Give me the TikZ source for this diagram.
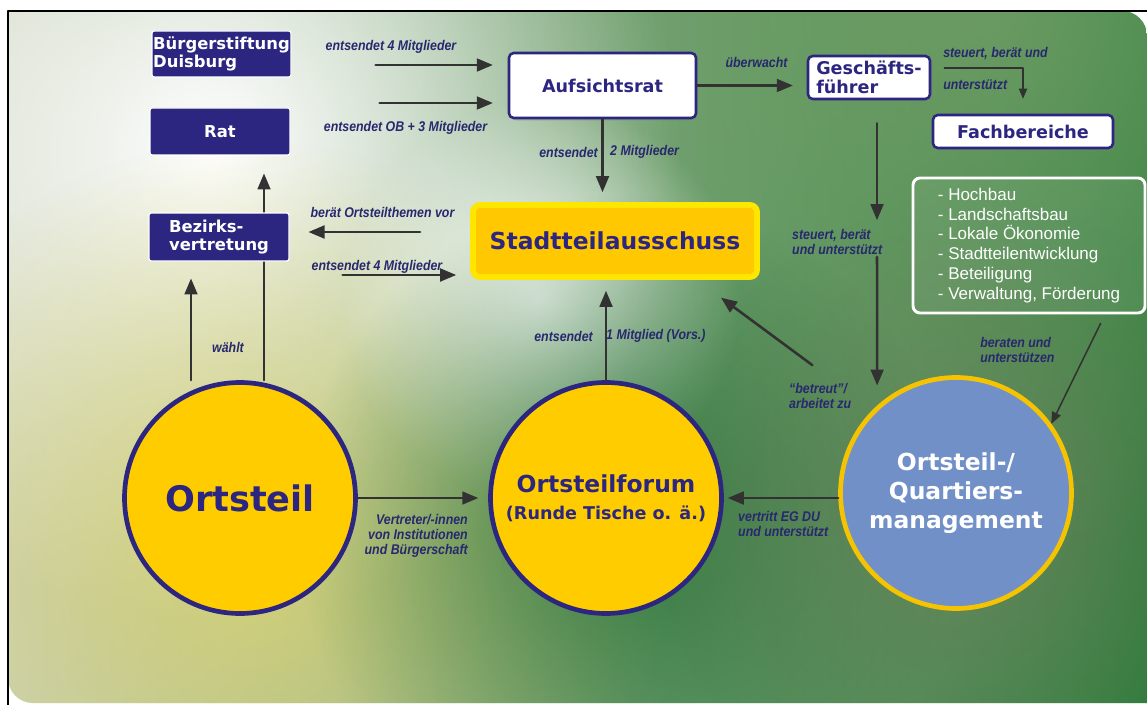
\documentclass[tikz,border=0pt]{standalone}
\usepackage{fontspec}
\newfontfamily\boxfont{DejaVu Sans}
\newfontfamily\labelfont[FakeStretch=0.88]{Liberation Sans}
\newfontfamily\listfont{Liberation Sans}
\usetikzlibrary{arrows,fadings,shadows}
\tikzfading[name=glow out,inner color=transparent!0,outer color=transparent!100]
\definecolor{navy}{RGB}{44,38,128}
\definecolor{labelnavy}{RGB}{40,40,110}
\definecolor{sunyellow}{RGB}{255,204,0}
\definecolor{staborder}{RGB}{255,230,0}
\definecolor{stafill}{RGB}{255,200,0}
\definecolor{qmblue}{RGB}{114,144,200}
\definecolor{qmring}{RGB}{245,195,0}
\definecolor{arrowgray}{RGB}{50,50,50}
\definecolor{bgleft}{RGB}{200,208,185}
\definecolor{bgmid}{RGB}{125,162,105}
\definecolor{bggreen}{RGB}{42,124,58}
\definecolor{bgtop}{RGB}{118,160,104}
\definecolor{glowyellow}{RGB}{222,212,110}
\definecolor{darkgreen}{RGB}{30,105,45}
\definecolor{haze}{RGB}{125,130,100}

\begin{document}
\begin{tikzpicture}[line cap=round,line join=round,>=triangle 45,x=0.3mm,y=-0.3mm,
    darkbox/.style={draw=white,line width=1pt,fill=navy,rounded corners=2pt,text=white,
      font=\boxfont\bfseries\fontsize{14}{15.5}\selectfont,align=left,inner sep=0pt},
    whitebox/.style={draw=navy,line width=2.2pt,fill=white,rounded corners=4pt,text=navy,
      font=\boxfont\bfseries\fontsize{15}{16}\selectfont,align=left,inner sep=0pt,
      drop shadow={opacity=0.25}},
    bigcircle/.style={circle,draw=navy,line width=4pt,fill=sunyellow,text=navy,
      minimum size=69.3mm,inner sep=0pt,align=center},
    flow/.style={->,draw=arrowgray,line width=2.2pt},
    thinflow/.style={->,draw=arrowgray,line width=1pt},
    lab/.style={text=labelnavy,font=\labelfont\bfseries\itshape\fontsize{12}{12.8}\selectfont,
      inner sep=0pt,align=left}]
    \useasboundingbox (0,0) rectangle (1147,705);
    \begin{scope}
    \clip (8,11) -- (1122,11) arc(-90:0:25) -- (1147,703) -- (33,703) arc(90:180:25) -- cycle;
    \shade[left color=bgleft,middle color=bgmid,right color=bggreen] (8,11) rectangle (1147,705);
    \fill[bgtop,path fading=glow out,opacity=.8] (980,0) circle (560);
    \fill[white,path fading=glow out] (210,150) circle (470);
    \fill[glowyellow,path fading=glow out,opacity=.8] (250,560) circle (420);
    \fill[white,path fading=glow out,opacity=.9] (540,300) circle (200);
    \fill[darkgreen,path fading=glow out,opacity=.7] (625,525) circle (330);
    \fill[haze,path fading=glow out,opacity=.6] (975,520) circle (320);
    \end{scope}
    \draw[black,line width=1pt] (8,705) -- (8,11) -- (1147,11);

    \node[darkbox,minimum width=41.7mm,minimum height=13.8mm] (buerger) at (221.5,54) {Bürgerstiftung\\Duisburg};
    \node[darkbox,align=center,minimum width=42mm,minimum height=14.1mm] (rat) at (220,131.5) {Rat};
    \node[bigcircle,font=\boxfont\bfseries\fontsize{30}{34}\selectfont] (ortsteil) at (240,498) {Ortsteil};
    \draw[flow,shorten >=5.4mm] (ortsteil.north -| 264,0) -- (rat.south -| 264,0);
    \node[darkbox,minimum width=42mm,minimum height=14.4mm] (bezirk) at (219,237) {Bezirks-\\vertretung};

    \node[whitebox,align=center,minimum width=56.1mm,minimum height=19.5mm] (aufsicht) at (602.5,85.5) {Aufsichtsrat};
    \node[whitebox,minimum width=36.6mm,minimum height=12.9mm] (gf) at (869,77.5) {Geschäfts-\\führer};
    \node[whitebox,align=center,minimum width=54mm,minimum height=9.9mm] (fach) at (1023,131.5) {Fachbereiche};
    \node[draw=white,line width=2.5pt,rounded corners=6pt,fill=white,fill opacity=.06,text opacity=1,
      text=white,font=\listfont\fontsize{14.5}{17}\selectfont,align=left,inner sep=0pt,
      minimum width=69.6mm,minimum height=40.5mm] (list) at (1029,245.5)
      {- Hochbau\\- Landschaftsbau\\- Lokale Ökonomie\\- Stadtteilentwicklung\\- Beteiligung\\- Verwaltung, Förderung};
    \node[draw=staborder,line width=5pt,fill=stafill,rounded corners=6pt,text=navy,
      font=\boxfont\bfseries\fontsize{20}{24}\selectfont,minimum width=85.2mm,minimum height=21.6mm,
      drop shadow={opacity=0.3}] (sta) at (615,241) {Stadtteilausschuss};
    \node[bigcircle,font=\boxfont\bfseries\fontsize{20}{21}\selectfont] (forum) at (606,498)
      {Ortsteilforum\\[2pt]{\fontsize{15}{18}\selectfont (Runde Tische o. ä.)}};
    \node[bigcircle,draw=qmring,fill=qmblue,text=white,font=\boxfont\bfseries\fontsize{20}{25}\selectfont] (qm) at (956,493)
      {Ortsteil-/\\Quartiers-\\management};

    \draw[flow,shorten <=25.2mm,shorten >=4.5mm] (buerger.east |- 0,65) -- (aufsicht.west |- 0,65);
    \draw[flow,shorten <=26.7mm,shorten >=4.5mm] (rat.east |- 0,103) -- (aufsicht.west |- 0,103);
    \draw[flow,shorten >=4.2mm] (aufsicht.east) -- (gf.west |- aufsicht.east);
    \draw[thinflow,shorten <=3.9mm,shorten >=4.5mm] (gf.east |- 0,68) -| (fach.north);
    \draw[flow,shorten >=3mm] (aufsicht.south) -- (sta.north -| aufsicht.south);
    \draw[flow,shorten <=15mm,shorten >=5.7mm] (sta.west |- 0,232) -- (bezirk.east |- 0,232);
    \draw[flow,shorten <=15.9mm,shorten >=4.2mm] (bezirk.east |- 0,275) -- (sta.west |- 0,275);
    \draw[flow,shorten >=5.1mm] (ortsteil.north -| 191,0) -- (bezirk.south -| 191,0);
    \draw[flow,shorten >=3.3mm] (forum.north) -- (sta.south -| forum.north);
    \draw[flow,shorten >=3mm] (ortsteil.east) -- (forum.west);
    \draw[flow,shorten >=1.2mm] (qm.west |- forum.east) -- (forum.east);
    \draw[flow,shorten <=22.5mm,shorten >=9mm] (qm.135) -- (sta.south -| 697,0);
    \coordinate (gfmid) at (877,238);
    \draw[flow,shorten <=6.9mm,shorten >=5.4mm] (gf.south -| gfmid) -- (gfmid);
    \draw[flow,shorten <=5.7mm,shorten >=6mm] (gfmid) -- (qm.132.6);
    \draw[thinflow,line width=1.3pt,shorten <=3mm] (list.south -| 1105,0) -- (qm.36);

    \node[lab] (lbuerger) at (391,47) {entsendet 4 Mitglieder};
    \node[lab] (lrat) at (405.5,128) {entsendet OB + 3 Mitglieder};
    \node[lab] (lueber) at (756.5,62) {überwacht};
    \node[lab,anchor=west] (lsteuerA) at (943,53) {steuert, berät und};
    \node[lab,anchor=west] (lsteuerB) at (943,85) {unterstützt};
    \node[lab,anchor=east] (lzweiA) at (598,152) {entsendet};
    \node[lab,anchor=west] (lzweiB) at (610,152) {2 Mitglieder};
    \node[lab] (lberaet) at (382.5,212) {berät Ortsteilthemen vor};
    \node[lab] (lvier) at (377,267) {entsendet 4 Mitglieder};
    \node[lab] (lwaehlt) at (228,347) {wählt};
    \node[lab,anchor=east] (leinsA) at (593,336) {entsendet};
    \node[lab,anchor=west] (leinsB) at (606,336) {1 Mitglied (Vors.)};
    \node[lab,anchor=west] (lsteuerC) at (792,241.5) {steuert, berät\\und unterstützt};
    \node[lab,anchor=west] (lbetreut) at (789,395.5) {“betreut”/\\arbeitet zu};
    \node[lab,anchor=west] (lberaten) at (980,350) {beraten und\\unterstützen};
    \node[lab,anchor=east,align=right] (lvertreter) at (468,536) {Vertreter/-innen\\von Institutionen\\und Bürgerschaft};
    \node[lab,anchor=west] (lvertritt) at (738,524) {vertritt EG DU\\und unterstützt};
\end{tikzpicture}
\end{document}
